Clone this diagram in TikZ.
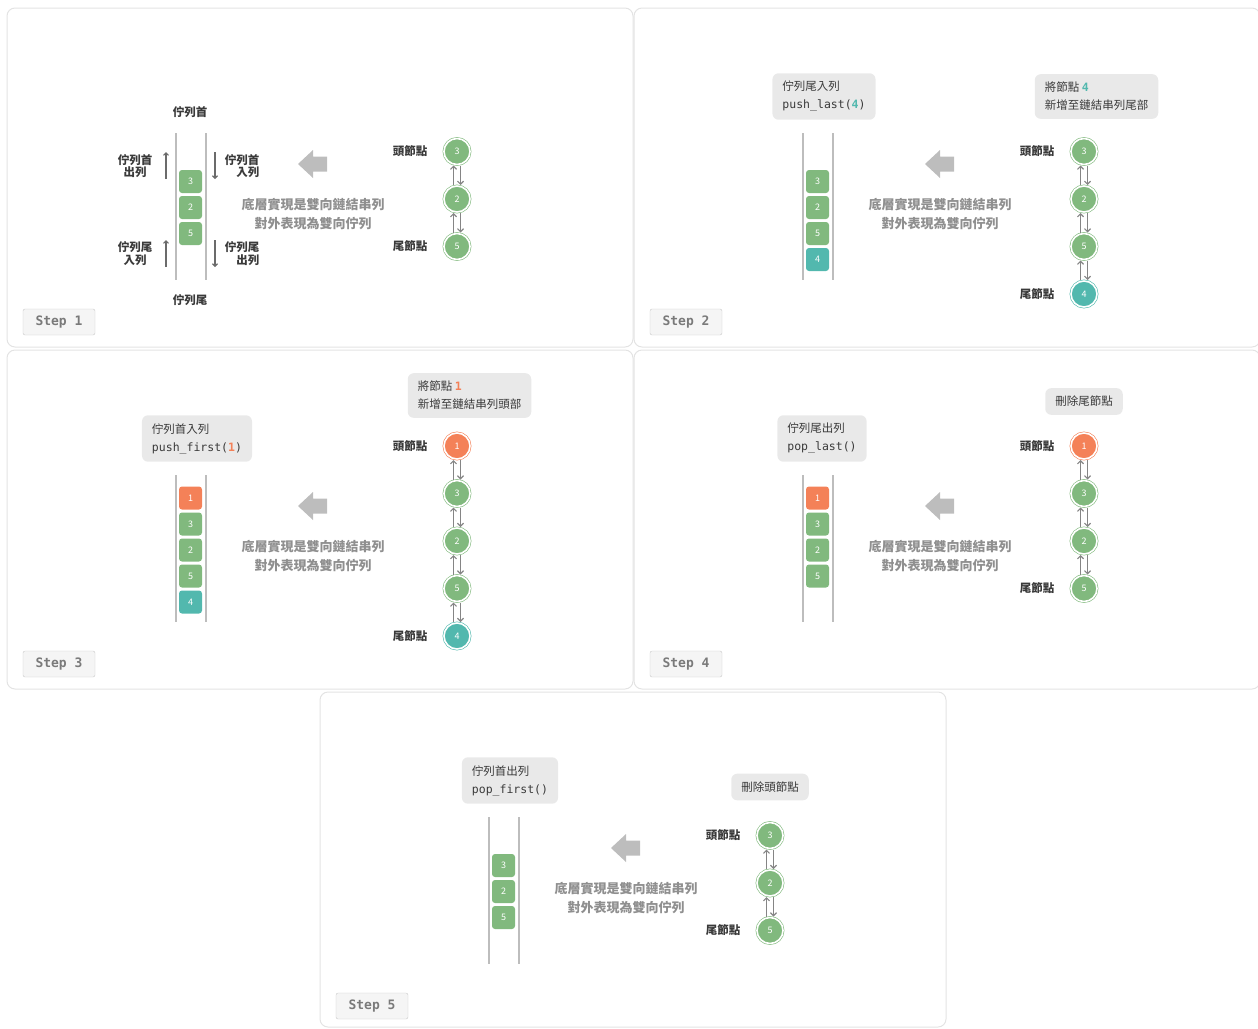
\documentclass[tikz,border=0pt]{standalone}
\usepackage{fontspec}
\setmainfont{Noto Sans CJK TC}
\setmonofont{DejaVu Sans Mono}
\usetikzlibrary{positioning, arrows.meta, calc}

\definecolor{qgreen}{HTML}{81B97E}
\definecolor{qteal}{HTML}{52B8AE}
\definecolor{qorange}{HTML}{F48158}
\definecolor{framegray}{HTML}{E3E3E3}
\definecolor{railgray}{HTML}{BDBDBD}
\definecolor{linkgray}{HTML}{858585}
\definecolor{notefill}{HTML}{E9E9E9}
\definecolor{labeldark}{HTML}{3A3A3A}
\definecolor{descgray}{HTML}{8F8F8F}
\definecolor{stepfill}{HTML}{F5F5F5}
\definecolor{stepborder}{HTML}{C8C8C8}
\definecolor{steptext}{HTML}{7A7A7A}

\begin{document}
\begin{tikzpicture}[
    x=1pt, y=-1pt,
    panel/.style={draw=framegray, line width=1pt, rounded corners=8pt},
    rail/.style={draw=railgray, line width=1.3pt},
    cell/.style={rectangle, rounded corners=3pt, fill=#1, minimum size=23pt, inner sep=0pt, text=white, font=\fontsize{9}{9}\selectfont},
    lnode/.style={circle, fill=#1, draw=#1, double=white, double distance=1.6pt, line width=0.6pt, minimum size=26pt, inner sep=0pt, outer sep=1pt, text=white, font=\fontsize{9}{9}\selectfont},
    link/.style={-{Straight Barb[length=3pt, width=6pt, line width=1.2pt]}, draw=linkgray, line width=1.4pt},
    side/.style={-{Straight Barb[length=2.5pt, width=5pt]}, draw=labeldark!75, line width=1.1pt},
    lbl/.style={text=labeldark, font=\fontsize{11.5}{12.5}\selectfont\bfseries},
    note/.style={fill=notefill, rounded corners=6pt, align=left, inner xsep=10pt, inner ysep=8pt, text=labeldark, font=\fontsize{11.5}{18}\selectfont},
    desc/.style={align=center, text=descgray, font=\fontsize{13}{19.5}\selectfont\bfseries},
    bigarrow/.style={fill=railgray},
    stepbox/.style={draw=stepborder, fill=stepfill, rounded corners=2pt, minimum width=72pt, minimum height=26pt, text=steptext, font=\ttfamily\bfseries\fontsize{13}{13}\selectfont}
]
\useasboundingbox (0,0) rectangle (1258,1028);

% ================= STEP 1 =================
\begin{scope}[shift={(7,8)}]
    \draw[panel] (0,0) rectangle (626,339);

    \draw[rail] (169,125) -- (169,272);
    \draw[rail] (199,125) -- (199,272);
    \foreach \v/\c [count=\i] in {3/qgreen, 2/qgreen, 5/qgreen}
        \node[cell=\c] (s1-q\i) at (183.5,147.5+26*\i) {\v};

    \node[lbl] (s1-front) at (183,104) {佇列首};
    \node[lbl] (s1-rear) at (183,292) {佇列尾};
    \node[lbl, align=center] (s1-popf) at (128,158) {佇列首\\出列};
    \node[lbl, align=right] (s1-pushf) at (235,158) {佇列首\\入列};
    \node[lbl, align=center] (s1-pushl) at (128,245.5) {佇列尾\\入列};
    \node[lbl, align=right] (s1-popl) at (235,245.5) {佇列尾\\出列};

    \coordinate (s1-a1) at (159,171);  \coordinate (s1-a2) at (159,144);
    \coordinate (s1-b1) at (208,144);  \coordinate (s1-b2) at (208,171);
    \coordinate (s1-c1) at (159,259);  \coordinate (s1-c2) at (159,232);
    \coordinate (s1-d1) at (208,232);  \coordinate (s1-d2) at (208,259);
    \draw[side] (s1-a1) -- (s1-a2);
    \draw[side] (s1-b1) -- (s1-b2);
    \draw[side] (s1-c1) -- (s1-c2);
    \draw[side] (s1-d1) -- (s1-d2);

    \fill[bigarrow] (291,156) -- (306,142) -- (306,148.5) -- (320,148.5) -- (320,163.5) -- (306,163.5) -- (306,170) -- cycle;
    \node[desc] (s1-desc) at (306,206) {底層實現是雙向鏈結串列\\對外表現為雙向佇列};

    \foreach \v/\c [count=\i] in {3/qgreen, 2/qgreen, 5/qgreen}
        \node[lnode=\c] (s1-n\i) at (450,96+47.5*\i) {\v};
    \foreach \i/\j in {1/2, 2/3} {
        \draw[link] ([xshift=-3.5pt]s1-n\j.north) -- ([xshift=-3.5pt]s1-n\i.south);
        \draw[link] ([xshift=3.5pt]s1-n\i.south) -- ([xshift=3.5pt]s1-n\j.north);
    }
    \node[lbl, left=12pt of s1-n1] (s1-head) {頭節點};
    \node[lbl, left=12pt of s1-n3] (s1-tail) {尾節點};

    \node[stepbox] (s1-step) at (52,314) {Step 1};
\end{scope}

% ================= STEP 2 =================
\begin{scope}[shift={(634,8)}]
    \draw[panel] (0,0) rectangle (626,339);

    \node[note] (s2-op) at (190,88.5) {佇列尾入列\\{\ttfamily push\_last({\bfseries\color{qteal}4})}};
    \node[note] (s2-info) at (462.5,88.5) {將節點 {\ttfamily\bfseries\color{qteal}4}\\新增至鏈結串列尾部};

    \draw[rail] (169,125) -- (169,272);
    \draw[rail] (199,125) -- (199,272);
    \foreach \v/\c [count=\i] in {3/qgreen, 2/qgreen, 5/qgreen, 4/qteal}
        \node[cell=\c] (s2-q\i) at (183.5,147.5+26*\i) {\v};

    \fill[bigarrow] (291,156) -- (306,142) -- (306,148.5) -- (320,148.5) -- (320,163.5) -- (306,163.5) -- (306,170) -- cycle;
    \node[desc] (s2-desc) at (306,206) {底層實現是雙向鏈結串列\\對外表現為雙向佇列};

    \foreach \v/\c [count=\i] in {3/qgreen, 2/qgreen, 5/qgreen, 4/qteal}
        \node[lnode=\c] (s2-n\i) at (450,96+47.5*\i) {\v};
    \foreach \i/\j in {1/2, 2/3, 3/4} {
        \draw[link] ([xshift=-3.5pt]s2-n\j.north) -- ([xshift=-3.5pt]s2-n\i.south);
        \draw[link] ([xshift=3.5pt]s2-n\i.south) -- ([xshift=3.5pt]s2-n\j.north);
    }
    \node[lbl, left=12pt of s2-n1] (s2-head) {頭節點};
    \node[lbl, left=12pt of s2-n4] (s2-tail) {尾節點};

    \node[stepbox] (s2-step) at (52,314) {Step 2};
\end{scope}

% ================= STEP 3 =================
\begin{scope}[shift={(7,350)}]
    \draw[panel] (0,0) rectangle (626,339);

    \node[note] (s3-op) at (190,88.5) {佇列首入列\\{\ttfamily push\_first({\bfseries\color{qorange}1})}};
    \node[note] (s3-info) at (462.5,45.5) {將節點 {\ttfamily\bfseries\color{qorange}1}\\新增至鏈結串列頭部};

    \draw[rail] (169,125) -- (169,272);
    \draw[rail] (199,125) -- (199,272);
    \foreach \v/\c [count=\i] in {1/qorange, 3/qgreen, 2/qgreen, 5/qgreen, 4/qteal}
        \node[cell=\c] (s3-q\i) at (183.5,122+26*\i) {\v};

    \fill[bigarrow] (291,156) -- (306,142) -- (306,148.5) -- (320,148.5) -- (320,163.5) -- (306,163.5) -- (306,170) -- cycle;
    \node[desc] (s3-desc) at (306,206) {底層實現是雙向鏈結串列\\對外表現為雙向佇列};

    \foreach \v/\c [count=\i] in {1/qorange, 3/qgreen, 2/qgreen, 5/qgreen, 4/qteal}
        \node[lnode=\c] (s3-n\i) at (450,48.5+47.5*\i) {\v};
    \foreach \i/\j in {1/2, 2/3, 3/4, 4/5} {
        \draw[link] ([xshift=-3.5pt]s3-n\j.north) -- ([xshift=-3.5pt]s3-n\i.south);
        \draw[link] ([xshift=3.5pt]s3-n\i.south) -- ([xshift=3.5pt]s3-n\j.north);
    }
    \node[lbl, left=12pt of s3-n1] (s3-head) {頭節點};
    \node[lbl, left=12pt of s3-n5] (s3-tail) {尾節點};

    \node[stepbox] (s3-step) at (52,314) {Step 3};
\end{scope}

% ================= STEP 4 =================
\begin{scope}[shift={(634,350)}]
    \draw[panel] (0,0) rectangle (626,339);

    \node[note] (s4-op) at (188,88.5) {佇列尾出列\\{\ttfamily pop\_last()}};
    \node[note] (s4-info) at (450,51.5) {刪除尾節點};

    \draw[rail] (169,125) -- (169,272);
    \draw[rail] (199,125) -- (199,272);
    \foreach \v/\c [count=\i] in {1/qorange, 3/qgreen, 2/qgreen, 5/qgreen}
        \node[cell=\c] (s4-q\i) at (183.5,122+26*\i) {\v};

    \fill[bigarrow] (291,156) -- (306,142) -- (306,148.5) -- (320,148.5) -- (320,163.5) -- (306,163.5) -- (306,170) -- cycle;
    \node[desc] (s4-desc) at (306,206) {底層實現是雙向鏈結串列\\對外表現為雙向佇列};

    \foreach \v/\c [count=\i] in {1/qorange, 3/qgreen, 2/qgreen, 5/qgreen}
        \node[lnode=\c] (s4-n\i) at (450,48.5+47.5*\i) {\v};
    \foreach \i/\j in {1/2, 2/3, 3/4} {
        \draw[link] ([xshift=-3.5pt]s4-n\j.north) -- ([xshift=-3.5pt]s4-n\i.south);
        \draw[link] ([xshift=3.5pt]s4-n\i.south) -- ([xshift=3.5pt]s4-n\j.north);
    }
    \node[lbl, left=12pt of s4-n1] (s4-head) {頭節點};
    \node[lbl, left=12pt of s4-n4] (s4-tail) {尾節點};

    \node[stepbox] (s4-step) at (52,314) {Step 4};
\end{scope}

% ================= STEP 5 =================
\begin{scope}[shift={(320,692)}]
    \draw[panel] (0,0) rectangle (626,335);

    \node[note] (s5-op) at (190,88.5) {佇列首出列\\{\ttfamily pop\_first()}};
    \node[note] (s5-info) at (450,95) {刪除頭節點};

    \draw[rail] (169,125) -- (169,272);
    \draw[rail] (199,125) -- (199,272);
    \foreach \v/\c [count=\i] in {3/qgreen, 2/qgreen, 5/qgreen}
        \node[cell=\c] (s5-q\i) at (183.5,147.5+26*\i) {\v};

    \fill[bigarrow] (291,156) -- (306,142) -- (306,148.5) -- (320,148.5) -- (320,163.5) -- (306,163.5) -- (306,170) -- cycle;
    \node[desc] (s5-desc) at (306,206) {底層實現是雙向鏈結串列\\對外表現為雙向佇列};

    \foreach \v/\c [count=\i] in {3/qgreen, 2/qgreen, 5/qgreen}
        \node[lnode=\c] (s5-n\i) at (450,96+47.5*\i) {\v};
    \foreach \i/\j in {1/2, 2/3} {
        \draw[link] ([xshift=-3.5pt]s5-n\j.north) -- ([xshift=-3.5pt]s5-n\i.south);
        \draw[link] ([xshift=3.5pt]s5-n\i.south) -- ([xshift=3.5pt]s5-n\j.north);
    }
    \node[lbl, left=12pt of s5-n1] (s5-head) {頭節點};
    \node[lbl, left=12pt of s5-n3] (s5-tail) {尾節點};

    \node[stepbox] (s5-step) at (52,314) {Step 5};
\end{scope}

\end{tikzpicture}
\end{document}
